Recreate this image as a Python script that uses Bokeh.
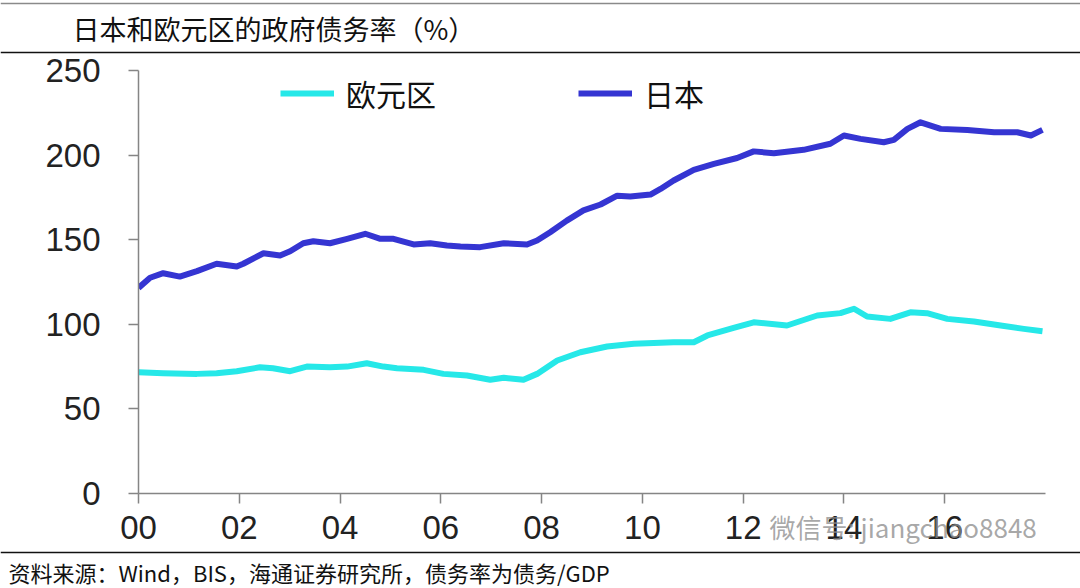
from bokeh.plotting import figure
from bokeh.models import (Range1d, FixedTicker, Legend, LegendItem, Label, Span)
from bokeh.layouts import column
from bokeh.embed import file_html
from bokeh.resources import INLINE

# ---------------- data ----------------
title_text = "日本和欧元区的政府债务率（%）"
source_text = "资料来源：Wind，BIS，海通证券研究所，债务率为债务/GDP"
watermark_text = "微信号: jiangchao8848"
series_names = ["欧元区", "日本"]

x_ticks = [2000, 2002, 2004, 2006, 2008, 2010, 2012, 2014, 2016]
x_tick_labels = ["00", "02", "04", "06", "08", "10", "12", "14", "16"]
y_ticks = [0, 50, 100, 150, 200, 250]

jp_year = [2000.00, 2000.23, 2000.49, 2000.82, 2001.16, 2001.55, 2001.95, 2002.08,
           2002.48, 2002.81, 2003.01, 2003.27, 2003.47, 2003.80, 2004.14, 2004.50,
           2004.80, 2005.06, 2005.46, 2005.79, 2006.12, 2006.39, 2006.78, 2007.25,
           2007.71, 2007.91, 2008.17, 2008.50, 2008.83, 2009.17, 2009.50, 2009.76,
           2010.16, 2010.36, 2010.62, 2011.02, 2011.42, 2011.88, 2012.21, 2012.61,
           2013.20, 2013.73, 2014.00, 2014.33, 2014.79, 2014.99, 2015.26, 2015.52,
           2015.92, 2016.45, 2016.98, 2017.44, 2017.71, 2017.94]
jp_debt = [121.5, 127.5, 130.2, 128.2, 131.4, 135.8, 134.2, 135.8,
           142.0, 140.7, 143.2, 147.9, 149.1, 147.9, 150.5, 153.5,
           150.5, 150.5, 147.2, 147.9, 146.6, 146.0, 145.6, 147.9,
           147.2, 149.5, 154.4, 161.3, 167.3, 170.8, 176.0, 175.5,
           176.7, 180.0, 185.0, 191.3, 194.8, 198.3, 202.2, 201.1,
           203.1, 206.7, 211.6, 209.6, 207.6, 209.0, 215.5, 219.4,
           215.5, 214.9, 213.5, 213.5, 211.6, 214.9]

ez_year = [2000.00, 2000.49, 2001.16, 2001.55, 2001.95, 2002.41, 2002.67, 2003.01,
           2003.34, 2003.80, 2004.14, 2004.53, 2004.86, 2005.13, 2005.66, 2006.05,
           2006.52, 2006.98, 2007.25, 2007.64, 2007.91, 2008.31, 2008.77, 2009.30,
           2009.83, 2010.62, 2011.02, 2011.29, 2011.81, 2012.21, 2012.87, 2013.47,
           2013.93, 2014.20, 2014.46, 2014.92, 2015.32, 2015.65, 2016.05, 2016.58,
           2017.11, 2017.57, 2017.94]
ez_debt = [71.7, 71.1, 70.7, 71.1, 72.3, 74.6, 74.0, 72.3,
           75.0, 74.6, 75.0, 77.0, 75.0, 74.0, 73.1, 70.7,
           69.7, 67.2, 68.4, 67.2, 70.7, 78.6, 83.5, 86.9,
           88.5, 89.4, 89.4, 93.4, 97.9, 101.2, 99.3, 105.2,
           106.6, 109.2, 104.6, 103.2, 107.1, 106.6, 103.2, 101.7,
           99.3, 97.3, 95.9]

CYAN = "#26E8E8"
BLUE = "#3535D2"
CJK = "Noto Sans CJK SC"
NUM = "Liberation Sans"
W = 1080

# ---------------- header ----------------
hdr = figure(width=W, height=54, x_range=Range1d(0, W), y_range=Range1d(0, 54),
             output_backend="svg", toolbar_location=None,
             x_axis_location=None, y_axis_location=None, min_border=0,
             outline_line_color=None, frame_align=False)
hdr.grid.visible = False
hdr.add_layout(Span(location=51, dimension="width", line_color="#8a8a8a", line_width=1.5))
hdr.add_layout(Span(location=2, dimension="width", line_color="#111111", line_width=1.5))
hdr.add_layout(Label(x=72, y=26, text=title_text, text_font=CJK, text_font_size="27px",
                     text_color="#111111", text_baseline="middle", text_align="left"))

# ---------------- main chart (slightly overlaps header, transparent border) ----------------
p = figure(width=W, height=506, x_range=Range1d(2000, 2018), y_range=Range1d(0, 250),
           output_backend="svg", toolbar_location=None,
           min_border_left=138, min_border_right=35, min_border_top=26, min_border_bottom=57,
           outline_line_color=None, background_fill_color="white", border_fill_alpha=0,
           frame_align=False)
p.margin = (-10, 0, 0, 0)
p.grid.visible = False

r_ez = p.line(ez_year, ez_debt, line_color=CYAN, line_width=6, line_join="round")
r_jp = p.line(jp_year, jp_debt, line_color=BLUE, line_width=6, line_join="round")

for ax in (p.xaxis[0], p.yaxis[0]):
    ax.axis_line_color = "#858585"
    ax.axis_line_width = 1.5
    ax.major_tick_line_color = "#858585"
    ax.major_tick_line_width = 1.5
    ax.major_tick_out = 10
    ax.major_tick_in = 0
    ax.minor_tick_line_color = None
    ax.major_label_text_font = NUM
    ax.major_label_text_font_size = "33px"
    ax.major_label_text_color = "#222222"

p.xaxis.ticker = FixedTicker(ticks=x_ticks)
p.xaxis.major_label_overrides = {t: l for t, l in zip(x_ticks, x_tick_labels)}
p.xaxis.major_label_standoff = 12
p.yaxis.ticker = FixedTicker(ticks=y_ticks)
p.yaxis.major_label_standoff = 28

legend = Legend(items=[LegendItem(label=series_names[0], renderers=[r_ez]),
                       LegendItem(label=series_names[1], renderers=[r_jp])],
                orientation="horizontal", location=(142, 378),
                glyph_width=54, glyph_height=30, label_height=30,
                label_standoff=12, spacing=142, padding=0, margin=0,
                border_line_color=None, background_fill_alpha=0,
                label_text_font=CJK, label_text_font_size="30px",
                label_text_color="#111111")
p.add_layout(legend)

# ---------------- footer (overlaps the bottom of the chart, transparent) ----------------
ftr = figure(width=W, height=83, x_range=Range1d(0, W), y_range=Range1d(0, 83),
             output_backend="svg", toolbar_location=None,
             x_axis_location=None, y_axis_location=None, min_border=0,
             outline_line_color=None, frame_align=False,
             border_fill_alpha=0, background_fill_alpha=0)
ftr.margin = (-45, 0, 0, 0)
ftr.grid.visible = False
ftr.add_layout(Label(x=769, y=62, text=watermark_text, text_font=CJK,
                     text_font_size="26px", text_color="#8c8c8c", text_alpha=0.75,
                     text_baseline="middle", text_align="left"))
ftr.add_layout(Span(location=36, dimension="width", line_color="#111111", line_width=1.5))
ftr.add_layout(Label(x=8, y=17, text=source_text, text_font=CJK, text_font_size="22px",
                     text_color="#111111", text_baseline="middle", text_align="left"))

layout = column(hdr, p, ftr, spacing=0)
open("out.html", "w").write(file_html(layout, INLINE))
